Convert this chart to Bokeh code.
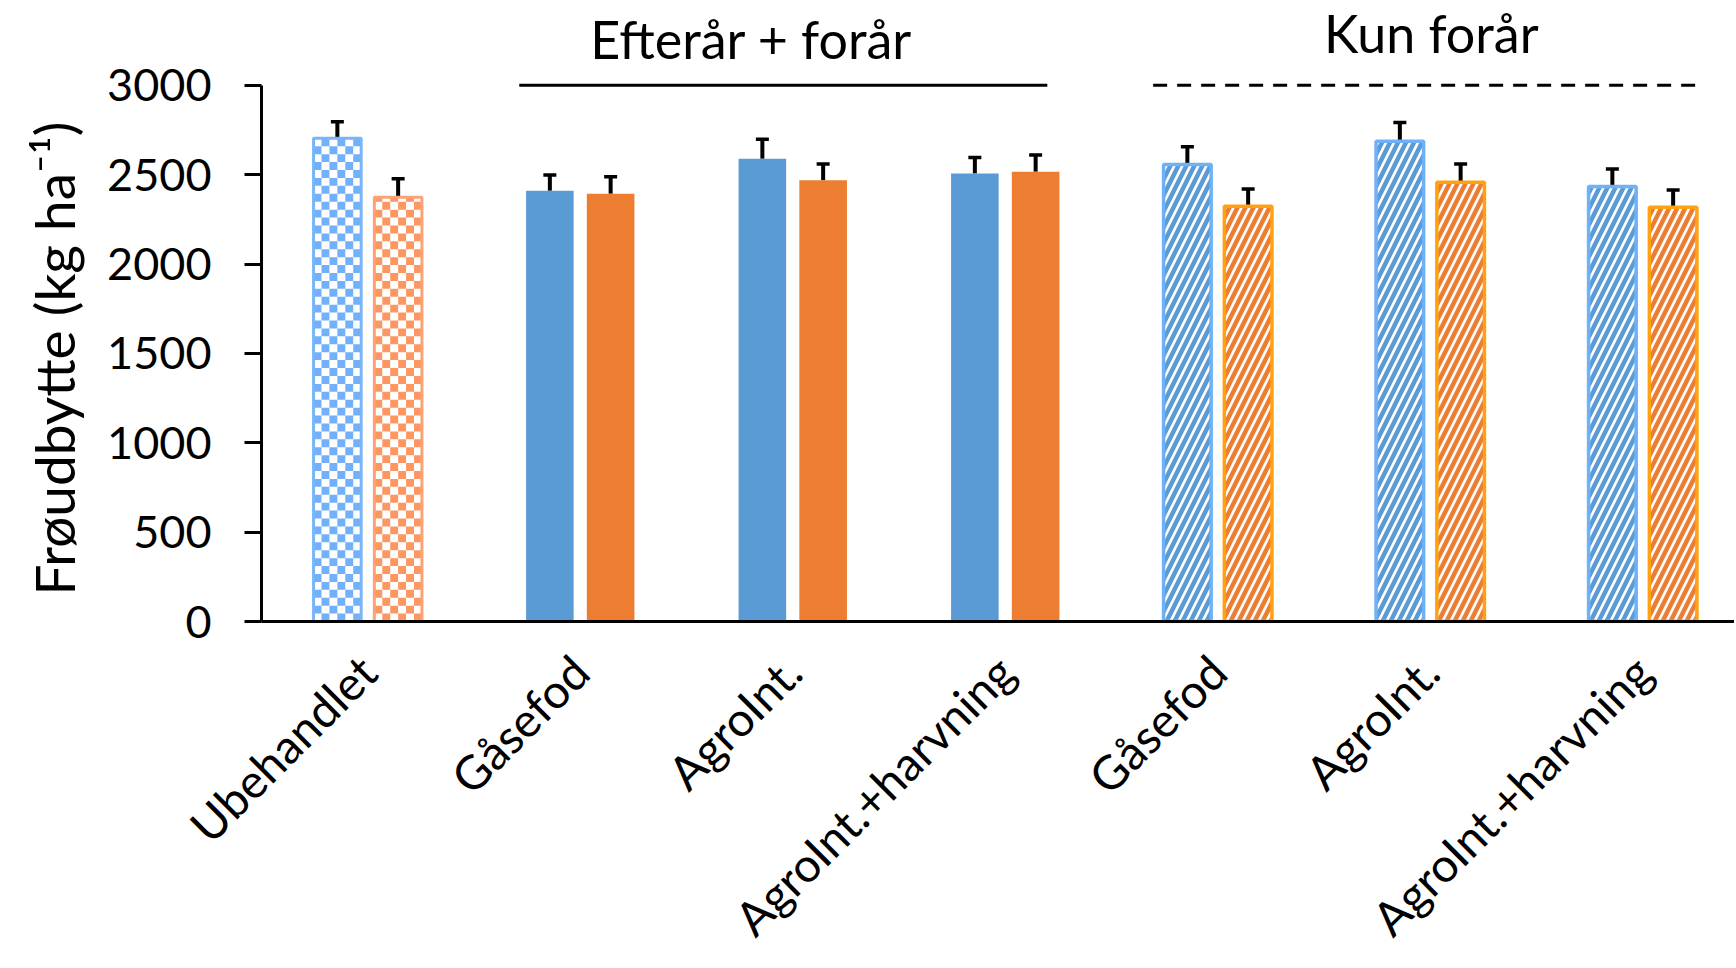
import numpy as np
from bokeh.plotting import figure
from bokeh.models import Range1d, FixedTicker, Whisker, TeeHead, ColumnDataSource, Title
from bokeh.core.properties import value
from bokeh.embed import file_html
from bokeh.resources import INLINE

# ---------------- data ----------------
categories = ["Ubehandlet", "Gåsefod", "AgroInt.", "AgroInt.+harvning",
              "Gåsefod", "AgroInt.", "AgroInt.+harvning"]
blue_values = [2704, 2410, 2590, 2507, 2557, 2687, 2434]
blue_errors = [92, 88, 109, 89, 99, 105, 98]
orange_values = [2374, 2393, 2469, 2516, 2324, 2458, 2318]
orange_errors = [104, 96, 91, 94, 96, 102, 97]
fill_styles = ["checker", "solid", "solid", "solid", "hatch", "hatch", "hatch"]
group_labels = ["Efterår + forår", "Kun forår"]
y_label = "Frøudbytte (kg ha⁻¹)"
y_ticks = [0, 500, 1000, 1500, 2000, 2500, 3000]

# ---------------- layout / style ----------------
FONT = "Lato"
W, H = 1734, 968
LEFT = 261                 # y-axis position (px)
Y3000, Y0 = 85, 622        # screen rows of 3000 and 0 (frame top at row 0)
PX_X = 212.5               # px per category
PX_Y = (Y0 - Y3000) / 3000
x0 = -0.5
x1 = x0 + (W - LEFT) / PX_X
y_top = 3000 + Y3000 / PX_Y

BAR_W = 0.224
OFFSET = 0.143

colors = {
    "blue": {"solid": "#5B9BD5", "checker": "#72B0FA", "checker_line": "#7AB5F8",
             "hatch": "#5B9BD5", "hatch_line": "#6EB1F7"},
    "orange": {"solid": "#ED7D31", "checker": "#FC9764", "checker_line": "#FDA275",
               "hatch": "#ED7D31", "hatch_line": "#FFA110"},
}

p = figure(width=W, height=H, x_range=Range1d(x0, x1), y_range=Range1d(0, y_top),
           output_backend="svg", toolbar_location=None,
           min_border_left=LEFT, min_border_right=0, min_border_top=0,
           min_border_bottom=H - Y0)
p.outline_line_color = None
p.background_fill_color = "white"
p.border_fill_color = "white"
p.xgrid.grid_line_color = None
p.ygrid.grid_line_color = None

idx = np.arange(len(categories))

for series, vals, errs, sign in (("blue", blue_values, blue_errors, -1),
                                 ("orange", orange_values, orange_errors, 1)):
    c = colors[series]
    xs = idx + sign * OFFSET
    vals = np.array(vals, dtype=float)
    errs = np.array(errs, dtype=float)
    for style in ("solid", "checker", "hatch"):
        m = np.array([s == style for s in fill_styles])
        if not m.any():
            continue
        src = ColumnDataSource(dict(x=xs[m], top=vals[m]))
        if style == "solid":
            p.vbar(x="x", top="top", bottom=0, width=BAR_W, source=src,
                   fill_color=c["solid"], line_color=None)
        elif style == "hatch":
            p.vbar(x="x", top="top", bottom=0, width=BAR_W, source=src,
                   fill_color="white", line_color=c["hatch_line"], line_width=3.5,
                   hatch_pattern="/", hatch_color=c["hatch"], hatch_scale=16,
                   hatch_weight=4.5)
        else:
            # checkerboard cells computed from each bar's geometry
            ncol = 6
            cw = BAR_W / ncol
            ch = cw * PX_X / PX_Y
            L, R, B, T = [], [], [], []
            for xc, v in zip(xs[m], vals[m]):
                left = xc - BAR_W / 2
                k = 0
                while k * ch < v:
                    b = k * ch
                    t = min((k + 1) * ch, v)
                    for j in range(ncol):
                        if (j + k) % 2 == 1:
                            L.append(left + j * cw)
                            R.append(left + (j + 1) * cw)
                            B.append(b)
                            T.append(t)
                    k += 1
            p.quad(left=L, right=R, bottom=B, top=T, fill_color=c["checker"],
                   line_color=None)
            p.vbar(x="x", top="top", bottom=0, width=BAR_W, source=src,
                   fill_color=None, line_color=c["checker_line"], line_width=3)
    esrc = ColumnDataSource(dict(x=xs, lower=vals, upper=vals + errs))
    p.add_layout(Whisker(source=esrc, base="x", lower="lower", upper="upper",
                         dimension="height", line_color="black", line_width=4,
                         upper_head=TeeHead(size=13, line_width=3.5, line_color="black"),
                         lower_head=None))

# group headers and rules
p.segment(x0=[0.713], y0=[3000], x1=[3.198], y1=[3000], line_color="black", line_width=3)
p.segment(x0=[3.696], y0=[3000], x1=[6.247], y1=[3000], line_color="black", line_width=3,
          line_dash="14 10")
p.text(x=[1.805, 5.005], y=[3000 + (Y3000 - 39) / PX_Y, 3000 + (Y3000 - 33) / PX_Y],
       text=group_labels, text_align="center", text_baseline="middle",
       text_font=value(FONT), text_font_size="52px", text_color="black")

# y axis
p.yaxis.ticker = FixedTicker(ticks=y_ticks)
p.yaxis.bounds = (0, 3000)
p.yaxis.axis_line_width = 3
p.yaxis.axis_line_color = "black"
p.yaxis.major_tick_line_width = 3
p.yaxis.major_tick_line_color = "black"
p.yaxis.major_tick_out = 17
p.yaxis.major_tick_in = 0
p.yaxis.minor_tick_line_color = None
p.yaxis.major_label_text_font = FONT
p.yaxis.major_label_text_font_size = "45px"
p.yaxis.major_label_text_color = "black"
p.yaxis.major_label_standoff = 33

# y axis title, starting just above the bottom of the value axis
p.add_layout(Title(text=y_label, align="left", offset=26,
                   standoff=36, text_font=FONT, text_font_size="55px",
                   text_font_style="normal", text_color="black"), "left")

# x axis (categories)
p.xaxis.ticker = FixedTicker(ticks=list(range(len(categories))))
p.xaxis.major_label_overrides = {i: c for i, c in enumerate(categories)}
p.xaxis.major_label_orientation = np.pi / 4
p.xaxis.major_label_text_font = FONT
p.xaxis.major_label_text_font_size = "47px"
p.xaxis.major_label_text_color = "black"
p.xaxis.major_label_standoff = 42
p.xaxis.major_tick_line_color = None
p.xaxis.major_tick_out = 0
p.xaxis.major_tick_in = 0
p.xaxis.minor_tick_line_color = None
p.xaxis.axis_line_width = 3
p.xaxis.axis_line_color = "black"

open("out.html", "w").write(file_html(p, INLINE))
